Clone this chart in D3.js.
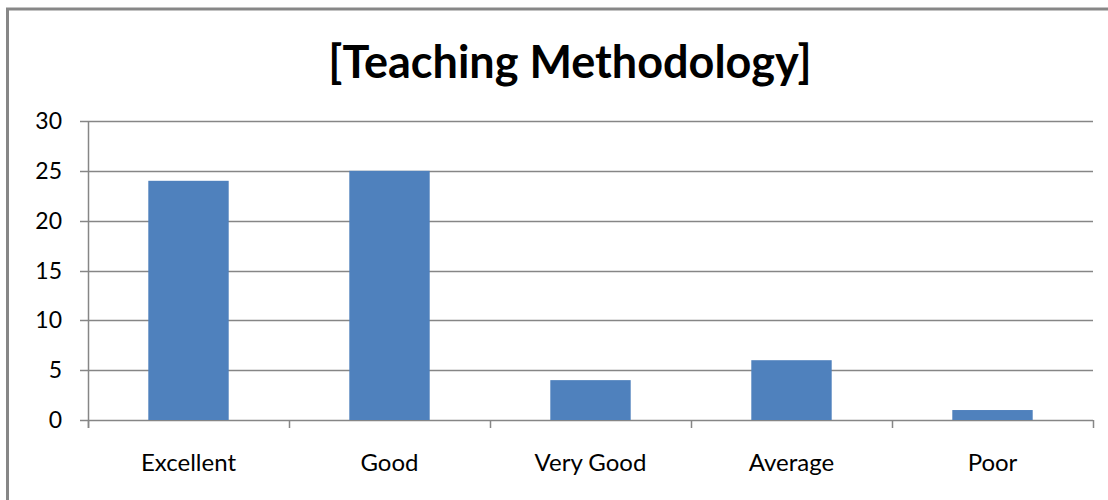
<!DOCTYPE html>
<html>
<head>
<meta charset="utf-8">
<script src="https://cdn.jsdelivr.net/npm/d3@7"></script>
<style>
  body { margin: 0; background: #fff; }
  text { font-family: Lato, "Open Sans", sans-serif; fill: #000; }
</style>
</head>
<body>
<script>
// chart data
var categories = ["Excellent", "Good", "Very Good", "Average", "Poor"];
var values = [24, 25, 4, 6, 1];
var yTicks = [0, 5, 10, 15, 20, 25, 30];
var title = "[Teaching Methodology]";

var W = 1108, H = 500;
var plot = { left: 88, right: 1093, top: 121, bottom: 420 };

var svg = d3.select("body").append("svg")
    .attr("width", W)
    .attr("height", H);

// outer frame of the chart (only top and left visible)
svg.append("path")
    .attr("d", "M7.5," + H + " V9 H" + W)
    .attr("fill", "none")
    .attr("stroke", "#878787")
    .attr("stroke-width", 3);

var x = d3.scaleBand()
    .domain(categories)
    .range([plot.left, plot.right])
    .paddingInner(0.6)
    .paddingOuter(0.3);

var y = d3.scaleLinear()
    .domain([0, 30])
    .range([plot.bottom, plot.top]);

// title
svg.append("text")
    .attr("x", 570)
    .attr("y", 78)
    .attr("text-anchor", "middle")
    .style("font-size", "45px")
    .style("font-weight", "bold")
    .text(title);

// horizontal gridlines
svg.append("g")
    .selectAll("line")
    .data(yTicks)
    .enter().append("line")
    .attr("x1", plot.left - 8)
    .attr("x2", plot.right)
    .attr("y1", function(d) { return Math.round(y(d)) + 0.5; })
    .attr("y2", function(d) { return Math.round(y(d)) + 0.5; })
    .attr("stroke", "#868686")
    .attr("stroke-width", 1.5);

// y tick labels
svg.append("g")
    .selectAll("text")
    .data(yTicks)
    .enter().append("text")
    .attr("x", 62)
    .attr("y", function(d) { return y(d); })
    .attr("dy", "0.35em")
    .attr("text-anchor", "end")
    .style("font-size", "23px")
    .text(function(d) { return d; });

// bars
svg.append("g")
    .selectAll("rect")
    .data(values)
    .enter().append("rect")
    .attr("x", function(d, i) { return x(categories[i]); })
    .attr("y", function(d) { return y(d); })
    .attr("width", x.bandwidth())
    .attr("height", function(d) { return y(0) - y(d); })
    .attr("fill", "#4f81bd");

// y axis line
svg.append("line")
    .attr("x1", plot.left + 0.5).attr("x2", plot.left + 0.5)
    .attr("y1", plot.top).attr("y2", plot.bottom + 8)
    .attr("stroke", "#868686")
    .attr("stroke-width", 1.5);

// x tick marks between categories
var step = (plot.right - plot.left) / categories.length;
svg.append("g")
    .selectAll("line")
    .data(d3.range(categories.length + 1))
    .enter().append("line")
    .attr("x1", function(d) { return Math.round(plot.left + d * step) + 0.5; })
    .attr("x2", function(d) { return Math.round(plot.left + d * step) + 0.5; })
    .attr("y1", y(0))
    .attr("y2", y(0) + 8)
    .attr("stroke", "#868686")
    .attr("stroke-width", 1.5);

// category labels
svg.append("g")
    .selectAll("text")
    .data(categories)
    .enter().append("text")
    .attr("x", function(d) { return x(d) + x.bandwidth() / 2; })
    .attr("y", 471)
    .attr("text-anchor", "middle")
    .style("font-size", "24px")
    .text(function(d) { return d; });
</script>
</body>
</html>
